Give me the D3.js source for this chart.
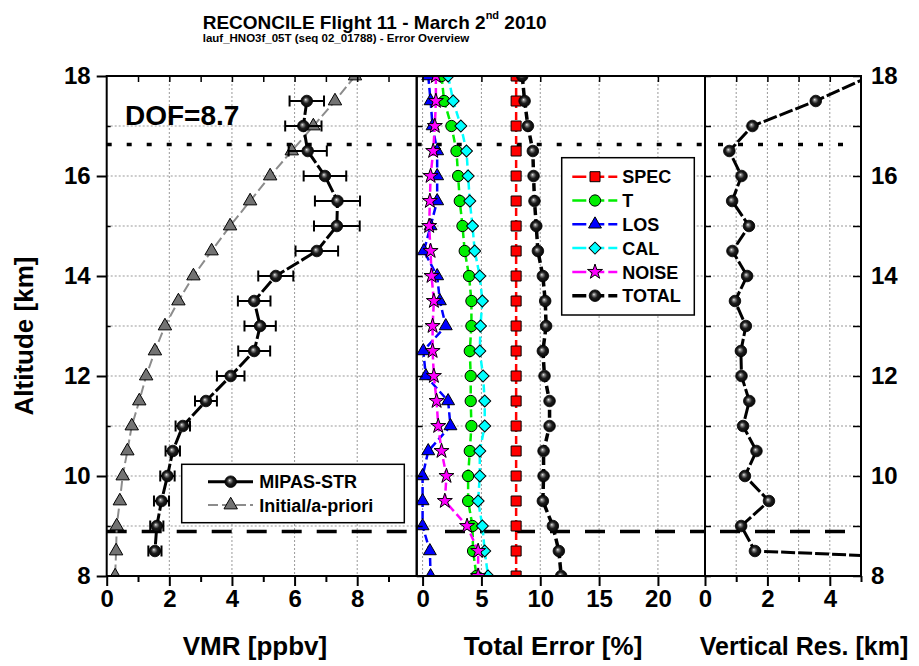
<!DOCTYPE html>
<html>
<head>
<meta charset="utf-8">
<script src="https://cdn.jsdelivr.net/npm/d3@7/dist/d3.min.js"></script>
<style>
body { margin: 0; background: #fff; }
text { font-family: Arial, "Liberation Sans", sans-serif; font-weight: bold; fill: #000; }
</style>
</head>
<body>
<div id="chart-area"></div>
<script>
// altitude grid (km), top to bottom
var altitudes = [18, 17.5, 17, 16.5, 16, 15.5, 15, 14.5, 14, 13.5, 13, 12.5, 12, 11.5, 11, 10.5, 10, 9.5, 9, 8.5, 8];

// panel 1: VMR (ppbv)
var mipasVmr = [null, 6.39, 6.28, 6.42, 6.97, 7.37, 7.35, 6.71, 5.40, 4.71, 4.90, 4.71, 3.96, 3.17, 2.43, 2.11, 1.94, 1.75, 1.60, 1.54, null];
var mipasErr = [null, 0.55, 0.58, 0.61, 0.68, 0.72, 0.73, 0.68, 0.56, 0.52, 0.50, 0.51, 0.44, 0.35, 0.23, 0.23, 0.23, 0.24, 0.21, 0.21, null];
var aprioriVmr = [7.93, 7.29, 6.60, 5.91, 5.22, 4.58, 3.94, 3.35, 2.77, 2.29, 1.86, 1.54, 1.26, 1.04, 0.80, 0.66, 0.51, 0.42, 0.32, 0.30, 0.27];

// panel 2: error contributions (%)
var specErr  = [7.95, 7.95, 7.95, 7.95, 7.95, 7.95, 7.95, 7.95, 7.95, 7.95, 7.95, 7.95, 7.95, 7.95, 7.95, 7.95, 7.95, 7.95, 7.95, 7.95, 7.95];
var tempErr  = [1.61, 1.83, 2.45, 2.88, 3.02, 3.16, 3.39, 3.58, 3.95, 4.15, 4.15, 4.01, 4.09, 4.09, 4.15, 4.01, 3.87, 3.87, 4.24, 4.29, 4.58];
var losErr   = [0.48, 0.68, 0.85, 1.24, 1.24, 1.24, 0.68, 0.11, 1.24, 1.47, 1.97, 0.06, 0.28, 2.17, 2.37, 0.48, 0.00, 0.00, 0.00, 0.62, 0.68];
var calErr   = [2.17, 2.60, 3.25, 3.73, 3.87, 4.01, 4.24, 4.43, 4.86, 5.08, 4.92, 4.86, 5.14, 5.28, 5.28, 4.86, 4.86, 4.72, 5.08, 5.28, 5.56];
var noiseErr = [1.13, 1.13, 1.04, 0.90, 0.68, 0.62, 0.56, 0.68, 0.76, 0.96, 0.85, 0.85, 0.96, 1.19, 1.33, 1.61, 2.03, 1.89, 3.78, 4.72, 4.72];
var totalErr = [8.47, 8.67, 8.95, 9.37, 9.43, 9.51, 9.66, 9.80, 10.22, 10.42, 10.50, 10.22, 10.36, 10.79, 10.79, 10.28, 10.28, 10.22, 11.07, 11.58, 11.78];

// panel 3: vertical resolution (km)
var vertRes = [5.3, 3.55, 1.52, 0.78, 1.17, 0.87, 1.41, 0.88, 1.35, 0.96, 1.31, 1.15, 1.17, 1.42, 1.22, 1.65, 1.28, 2.05, 1.16, 1.60, 21];

// reference altitudes (horizontal lines)
var refAltHigh = 16.63;
var refAltLow = 8.89;
var dofText = "DOF=8.7";

// tick values
var yMajor = [8, 10, 12, 14, 16, 18];
var yMinor = [9, 11, 13, 15, 17];
var yAll = [8, 9, 10, 11, 12, 13, 14, 15, 16, 17, 18];
var vmrMajor = [0, 2, 4, 6, 8], vmrMinor = [1, 3, 5, 7, 9];
var errMajor = [0, 5, 10, 15, 20];
var resMajor = [0, 2, 4], resMinor = [1, 3, 5];

var width = 919, height = 666;
var svg = d3.select("#chart-area").append("svg")
    .attr("width", width)
    .attr("height", height);

var defs = svg.append("defs");
var grad = defs.append("radialGradient").attr("id", "ball")
    .attr("cx", "0.5").attr("cy", "0.5").attr("r", "0.55")
    .attr("fx", "0.4").attr("fy", "0.38");
grad.append("stop").attr("offset", "0%").attr("stop-color", "#f0f0f0");
grad.append("stop").attr("offset", "18%").attr("stop-color", "#8a8a8a");
grad.append("stop").attr("offset", "50%").attr("stop-color", "#1e1e1e");
grad.append("stop").attr("offset", "100%").attr("stop-color", "#000000");

var y = d3.scaleLinear().domain([8, 18]).range([576, 76]);

var x1 = d3.scaleLinear().domain([0, 9.9]).range([106.7, 416.7]);
var x2 = d3.scaleLinear().domain([-0.5, 24]).range([416.7, 705]);
var x3 = d3.scaleLinear().domain([0, 5]).range([705, 861]);

function makeClip(id, xs) {
    defs.append("clipPath").attr("id", id).append("rect")
        .attr("x", xs.range()[0]).attr("y", 76)
        .attr("width", xs.range()[1] - xs.range()[0]).attr("height", 500);
}
makeClip("c1", x1); makeClip("c2", x2); makeClip("c3", x3);

function toPoints(vals) {
    return altitudes.map(function(a, i) { return { alt: a, v: vals[i], i: i }; })
        .filter(function(d) { return d.v != null; });
}

// grid + frame helpers
function drawGrid(xs, gridX) {
    var g = svg.append("g");
    g.selectAll(".gx").data(gridX).enter().append("line")
        .attr("x1", function(d) { return xs(d); }).attr("x2", function(d) { return xs(d); })
        .attr("y1", 76).attr("y2", 576)
        .attr("stroke", "#999").attr("stroke-width", 1).attr("stroke-dasharray", "2,2");
    g.selectAll(".gy").data(yMinor.concat([10, 12, 14, 16])).enter().append("line")
        .attr("x1", xs.range()[0]).attr("x2", xs.range()[1])
        .attr("y1", function(d) { return y(d); }).attr("y2", function(d) { return y(d); })
        .attr("stroke", "#999").attr("stroke-width", 1).attr("stroke-dasharray", "2,2");
}

function refLines(xs, clipId, dotX, dashX) {
    var g = svg.append("g").attr("clip-path", "url(#" + clipId + ")");
    g.append("line")
        .attr("x1", dotX[0]).attr("x2", dotX[1])
        .attr("y1", y(refAltHigh)).attr("y2", y(refAltHigh))
        .attr("stroke", "#000").attr("stroke-width", 3.3).attr("stroke-dasharray", "5,15");
    g.append("line")
        .attr("x1", dashX[0]).attr("x2", dashX[1])
        .attr("y1", y(refAltLow)).attr("y2", y(refAltLow))
        .attr("stroke", "#000").attr("stroke-width", 3.3).attr("stroke-dasharray", "20,15");
}

function bottomAxis(xs, major, minor, labels) {
    var g = svg.append("g").attr("transform", "translate(0,576)");
    g.call(d3.axisBottom(xs).tickValues(major).tickSize(10).tickPadding(4)
        .tickFormat(function(d) { return labels.indexOf(d) >= 0 ? d : ""; }));
    g.select(".domain").remove();
    g.selectAll("line").attr("stroke-width", 2);
    g.selectAll("text").attr("font-size", "24px");
    if (minor.length) {
        var gm = svg.append("g").attr("transform", "translate(0,576)");
        gm.call(d3.axisBottom(xs).tickValues(minor).tickSize(6).tickFormat(""));
        gm.select(".domain").remove();
        gm.selectAll("line").attr("stroke-width", 2);
    }
    // inward top ticks
    var gt = svg.append("g").attr("transform", "translate(0,76)");
    gt.call(d3.axisTop(xs).tickValues(major.concat(minor).filter(function(d) {
            return xs(d) > xs.range()[0] + 1 && xs(d) < xs.range()[1] - 1;
        })).tickSize(-6).tickFormat(""));
    gt.select(".domain").remove();
    gt.selectAll("line").attr("stroke-width", 1.5);
}

function rightTicks(xpos, len) {
    var g = svg.append("g").attr("transform", "translate(" + xpos + ",0)");
    g.call(d3.axisLeft(y).tickValues(yAll).tickSize(len).tickFormat(""));
    g.select(".domain").remove();
    g.selectAll("line").attr("stroke-width", 1.5).attr("transform", "translate(" + len + ",0)");
}

function drawBalls(g, pts, xs, r) {
    g.selectAll(null).data(pts).enter().append("circle")
        .attr("cx", function(d) { return xs(d.v); })
        .attr("cy", function(d) { return y(d.alt); })
        .attr("r", r)
        .attr("fill", "url(#ball)")
        .attr("stroke", "#000").attr("stroke-width", 0.8);
}

function drawSymbols(g, pts, xs, type, size, fill, rot) {
    var sym = d3.symbol().type(type).size(size);
    g.selectAll(null).data(pts).enter().append("path")
        .attr("d", sym)
        .attr("transform", function(d) {
            return "translate(" + xs(d.v) + "," + y(d.alt) + ")" + (rot ? " rotate(" + rot + ")" : "");
        })
        .attr("fill", fill).attr("stroke", "#000").attr("stroke-width", 1);
}

function lineFor(xs) {
    return d3.line().x(function(d) { return xs(d.v); }).y(function(d) { return y(d.alt); });
}

// ---------- panel 1 ----------
drawGrid(x1, vmrMajor.slice(1));
refLines(x1, "c1", [106.7, 416.7], [106.7, 416.7]);

var p1 = svg.append("g").attr("clip-path", "url(#c1)");
var apri = toPoints(aprioriVmr);
p1.append("path").datum(apri).attr("d", lineFor(x1))
    .attr("fill", "none").attr("stroke", "#8c8c8c").attr("stroke-width", 2).attr("stroke-dasharray", "10,4");
drawSymbols(p1, apri, x1, d3.symbolTriangle, 78, "#737373");

var mip = toPoints(mipasVmr);
p1.append("path").datum(mip).attr("d", lineFor(x1))
    .attr("fill", "none").attr("stroke", "#000").attr("stroke-width", 3).attr("stroke-dasharray", "14,3");
// error bars
var eb = p1.selectAll(".eb").data(mip).enter().append("g").attr("class", "eb");
eb.append("line")
    .attr("x1", function(d) { return x1(d.v - mipasErr[d.i]); })
    .attr("x2", function(d) { return x1(d.v + mipasErr[d.i]); })
    .attr("y1", function(d) { return y(d.alt); }).attr("y2", function(d) { return y(d.alt); })
    .attr("stroke", "#000").attr("stroke-width", 2);
[-1, 1].forEach(function(s) {
    eb.append("line")
        .attr("x1", function(d) { return x1(d.v + s * mipasErr[d.i]); })
        .attr("x2", function(d) { return x1(d.v + s * mipasErr[d.i]); })
        .attr("y1", function(d) { return y(d.alt) - 5.5; }).attr("y2", function(d) { return y(d.alt) + 5.5; })
        .attr("stroke", "#000").attr("stroke-width", 2);
});
drawBalls(p1, mip, x1, 5.8);

svg.append("text").attr("x", 125).attr("y", 125).attr("font-size", "28px").text(dofText);

// legend 1
var lg1 = svg.append("g");
lg1.append("rect").attr("x", 181.7).attr("y", 464.3).attr("width", 222.6).attr("height", 58.4)
    .attr("fill", "#fff").attr("stroke", "#000").attr("stroke-width", 1.5);
lg1.append("line").attr("x1", 208).attr("x2", 253).attr("y1", 481.7).attr("y2", 481.7)
    .attr("stroke", "#000").attr("stroke-width", 3);
lg1.append("circle").attr("cx", 230.7).attr("cy", 481.7).attr("r", 5.8)
    .attr("fill", "url(#ball)").attr("stroke", "#000").attr("stroke-width", 0.8);
lg1.append("text").attr("x", 259.3).attr("y", 488.3).attr("font-size", "18px").text("MIPAS-STR");
lg1.append("line").attr("x1", 208).attr("x2", 253).attr("y1", 505).attr("y2", 505)
    .attr("stroke", "#8c8c8c").attr("stroke-width", 2).attr("stroke-dasharray", "10,4");
lg1.append("path").attr("d", d3.symbol().type(d3.symbolTriangle).size(78))
    .attr("transform", "translate(230.7,505)")
    .attr("fill", "#737373").attr("stroke", "#000").attr("stroke-width", 1);
lg1.append("text").attr("x", 259.3).attr("y", 511.7).attr("font-size", "18px").text("Initial/a-priori");

// ---------- panel 2 ----------
drawGrid(x2, errMajor);
refLines(x2, "c2", [416.7, 705], [445, 705]);

var series = [
    { name: "SPEC",  vals: specErr,  color: "#ff0000", type: d3.symbolSquare,   size: 100, rot: 0 },
    { name: "T",     vals: tempErr,  color: "#00ee00", type: d3.symbolCircle,   size: 100, rot: 0 },
    { name: "LOS",   vals: losErr,   color: "#0000ff", type: d3.symbolTriangle, size: 72,  rot: 0 },
    { name: "CAL",   vals: calErr,   color: "#00ffff", type: d3.symbolSquare,   size: 72,  rot: 45 },
    { name: "NOISE", vals: noiseErr, color: "#ff00ff", type: d3.symbolStar,     size: 70,  rot: 0 },
    { name: "TOTAL", vals: totalErr, color: "#000000", type: null,              size: 0,   rot: 0 }
];

var p2 = svg.append("g").attr("clip-path", "url(#c2)");
series.forEach(function(s) {
    var pts = toPoints(s.vals);
    p2.append("path").datum(pts).attr("d", lineFor(x2))
        .attr("fill", "none").attr("stroke", s.color)
        .attr("stroke-width", s.type ? 2.5 : 3.5).attr("stroke-dasharray", "8,4");
    if (s.type) drawSymbols(p2, pts, x2, s.type, s.size, s.color, s.rot);
    else drawBalls(p2, pts, x2, 5.8);
});

// legend 2
var lg2 = svg.append("g");
lg2.append("rect").attr("x", 561.7).attr("y", 157.7).attr("width", 132.6).attr("height", 157.3)
    .attr("fill", "#fff").attr("stroke", "#000").attr("stroke-width", 1.5);
series.forEach(function(s, i) {
    var cy = 176.7 + i * 23.8;
    lg2.append("line").attr("x1", 572.3).attr("x2", 617.3).attr("y1", cy).attr("y2", cy)
        .attr("stroke", s.color).attr("stroke-width", s.type ? 2.5 : 3.5)
        .attr("stroke-dasharray", "14,4");
    if (s.type) {
        lg2.append("path").attr("d", d3.symbol().type(s.type).size(s.size))
            .attr("transform", "translate(595," + cy + ")" + (s.rot ? " rotate(" + s.rot + ")" : ""))
            .attr("fill", s.color).attr("stroke", "#000").attr("stroke-width", 1);
    } else {
        lg2.append("circle").attr("cx", 595).attr("cy", cy).attr("r", 5.8)
            .attr("fill", "url(#ball)").attr("stroke", "#000").attr("stroke-width", 0.8);
    }
    lg2.append("text").attr("x", 622.3).attr("y", cy + 6.6).attr("font-size", "18px").text(s.name);
});

// ---------- panel 3 ----------
drawGrid(x3, [1, 2, 3, 4]);
refLines(x3, "c3", [718, 847], [720, 861]);

var p3 = svg.append("g").attr("clip-path", "url(#c3)");
var vr = toPoints(vertRes);
p3.append("path").datum(vr).attr("d", lineFor(x3))
    .attr("fill", "none").attr("stroke", "#000").attr("stroke-width", 3).attr("stroke-dasharray", "14,3");
drawBalls(p3, vr, x3, 5.8);

// ---------- frames and axes ----------
[x1, x2, x3].forEach(function(xs) {
    svg.append("rect").attr("x", xs.range()[0]).attr("y", 76)
        .attr("width", xs.range()[1] - xs.range()[0]).attr("height", 500)
        .attr("fill", "none").attr("stroke", "#000").attr("stroke-width", 2);
});

bottomAxis(x1, vmrMajor, vmrMinor, vmrMajor);
bottomAxis(x2, errMajor, [], errMajor);
bottomAxis(x3, resMajor, resMinor, resMajor);

rightTicks(416.7, 6);
rightTicks(705, 6);

// left axis
var gl = svg.append("g").attr("transform", "translate(106.7,0)");
gl.call(d3.axisLeft(y).tickValues(yMajor).tickSize(10).tickPadding(6));
gl.select(".domain").remove();
gl.selectAll("line").attr("stroke-width", 2);
gl.selectAll("text").attr("font-size", "24px");
var glm = svg.append("g").attr("transform", "translate(106.7,0)");
glm.call(d3.axisLeft(y).tickValues(yMinor).tickSize(-4).tickFormat(""));
glm.select(".domain").remove();
glm.selectAll("line").attr("stroke-width", 1.5);

// right axis
var gr = svg.append("g").attr("transform", "translate(861,0)");
gr.call(d3.axisRight(y).tickValues(yAll).tickSize(-8).tickPadding(10)
    .tickFormat(function(d) { return yMajor.indexOf(d) >= 0 ? d : ""; }));
gr.select(".domain").remove();
gr.selectAll("line").attr("stroke-width", 1.5);
gr.selectAll("text").attr("font-size", "24px");

// ---------- titles ----------
var title = svg.append("text").attr("x", 202.7).attr("y", 29.3).attr("font-size", "19px");
title.append("tspan").text("RECONCILE Flight 11 - March 2");
title.append("tspan").attr("font-size", "11px").attr("dy", -10).text("nd");
title.append("tspan").attr("dy", 10).text(" 2010");

svg.append("text").attr("x", 202.7).attr("y", 41.7).attr("font-size", "11.5px")
    .text("lauf_HNO3f_05T (seq 02_01788) - Error Overview");

svg.append("text").attr("x", 255).attr("y", 655).attr("text-anchor", "middle")
    .attr("font-size", "26px").text("VMR [ppbv]");
svg.append("text").attr("x", 553).attr("y", 655).attr("text-anchor", "middle")
    .attr("font-size", "26px").text("Total Error [%]");
svg.append("text").attr("x", 804).attr("y", 655).attr("text-anchor", "middle")
    .attr("font-size", "25px").text("Vertical Res. [km]");
svg.append("text").attr("transform", "translate(33,336) rotate(-90)").attr("text-anchor", "middle")
    .attr("font-size", "26px").text("Altitude [km]");
</script>
</body>
</html>
